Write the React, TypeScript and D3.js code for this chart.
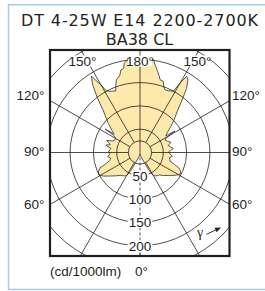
import React from 'react';
import * as d3 from 'd3';

// ---- data ----
const titleLines = ['DT 4-25W E14 2200-2700K', 'BA38 CL'];
const ringValues = [25, 50, 100, 150, 200, 250];
const ringLabels = [50, 100, 150, 200];
const spokeGammas = [30, 60, 90, 120, 150];
const sideLabelGammas = [120, 90, 60];
const sideLabelTexts = ['120°', '90°', '60°'];
const topLabelTexts = ['150°', '180°', '150°'];
const unitLabel = '(cd/1000lm)';
const zeroLabel = '0°';

// left half (C180 side), gamma 0 (down) -> 180 (up), cd/1000lm
const gammaLeft = [0, 5, 10, 15, 20, 24, 27, 30, 33, 37, 41, 46, 52, 57, 60, 62.5, 66, 69, 72, 75, 79, 83, 87, 91, 95, 98, 102, 105, 110, 113, 117, 121, 123, 124, 125.5, 128, 132.5, 136, 139, 142, 145, 147.5, 149.5, 151.5, 155, 158.5, 160, 162, 164, 165.5, 167, 169, 170, 172.5, 176, 180];
const intensityLeft = [4, 5, 7, 10, 15, 25, 45, 57, 60, 62, 65, 72, 82, 93, 98, 101, 97, 92, 76, 68, 64, 70, 64, 68, 65, 63, 75, 66, 76, 63, 60, 62, 68, 90, 68, 76, 92, 106, 121, 148, 177, 194, 172, 150, 145, 142, 152, 164, 168, 172, 182, 184, 195, 201, 203, 203];
// right half (C0 side)
const gammaRight = [0, 5, 10, 15, 20, 24, 27, 30, 33, 37, 41, 46, 52, 57, 60, 62, 65, 68, 71, 74, 77, 80, 83, 87, 91, 94, 97, 101, 104, 108, 112, 116, 119, 121.5, 123, 126, 130, 134, 138, 141, 144, 146.5, 148.5, 150, 151.5, 155, 158.3, 160, 162, 164.6, 166, 167.7, 169.7, 171.8, 176, 180];
const intensityRight = [4, 5, 7, 10, 15, 25, 45, 57, 60, 62, 64, 71, 80, 90, 95, 98, 96, 91, 78, 67, 66, 64, 70, 65, 61, 66, 72, 66, 62, 70, 64, 60, 64, 88, 66, 72, 86, 102, 120, 142, 170, 186, 192, 172, 150, 146, 145, 150, 161, 162, 170, 178, 188, 201, 203, 203];

// ---- layout ----
const W = 265, H = 291;
const cx = 140, cy = 152.5;
const fx0 = 50, fx1 = 229.5, fy0 = 50, fy1 = 256;
const rScale = d3.scaleLinear().domain([0, 250]).range([0, 116.5]);
const deg = Math.PI / 180;
const ink = '#231f20';
const labelFont = 'Liberation Sans, Arial, sans-serif';

export default function App() {
  const pts: [number, number][] = [];
  gammaRight.forEach((g, i) => pts.push([Math.PI - g * deg, rScale(intensityRight[i])]));
  for (let i = gammaLeft.length - 1; i >= 0; i--) {
    pts.push([Math.PI + gammaLeft[i] * deg, rScale(intensityLeft[i])]);
  }
  const curve = d3.lineRadial<[number, number]>()
    .angle(d => d[0]).radius(d => d[1]).curve(d3.curveLinearClosed)(pts) || '';

  const inner = rScale(25);
  const spokes: { x1: number; y1: number; x2: number; y2: number }[] = [];
  spokeGammas.forEach(g => {
    [-1, 1].forEach(s => {
      const dx = s * Math.sin(g * deg), dy = Math.cos(g * deg);
      spokes.push({ x1: cx + dx * inner, y1: cy + dy * inner, x2: cx + dx * 400, y2: cy + dy * 400 });
    });
  });

  const sideY = (g: number) => cy + Math.cos(g * deg) * ((cx - fx0) / Math.sin(g * deg));
  const sideDy = [-5.5, -1.5, -0.5];
  const fs = 13.5;

  const topLabelX = [cx - 57.5, cx, cx + 57.5];

  return (
    <svg width={W} height={H} style={{ position: 'absolute', left: 0, top: 0, background: '#fff' }}>
      <defs>
        <clipPath id="frameClip">
          <rect x={fx0} y={fy0} width={fx1 - fx0} height={fy1 - fy0} />
        </clipPath>
      </defs>
      <path d={`M ${W} 4.75 H 8.5 V 289.5 H ${W}`} fill="none" stroke="#a9cbe5" strokeWidth={1.5} />

      <text x={139.5} y={26} textAnchor="middle" fontFamily="DejaVu Sans, sans-serif" fontSize={16}
        textLength={237} lengthAdjust="spacing" fill={ink}>{titleLines[0]}</text>
      <text x={139.5} y={45} textAnchor="middle" fontFamily="DejaVu Sans, sans-serif" fontSize={16} fill={ink}>{titleLines[1]}</text>

      <g transform={`translate(${cx},${cy})`}>
        <path d={curve} fill="#fde9ab" stroke="#4a4540" strokeWidth={0.9} strokeLinejoin="round" />
      </g>

      <g clipPath="url(#frameClip)" stroke={ink} strokeWidth={0.8} fill="none">
        {ringValues.map(v => <circle key={v} cx={cx} cy={cy} r={rScale(v)} />)}
        {spokes.map((s, i) => <line key={i} {...s} />)}
        <line x1={cx} y1={cy} x2={cx} y2={fy0} />
        <line x1={cx} y1={cy} x2={cx} y2={fy1} strokeDasharray="3,2" />
      </g>

      {ringLabels.map(v => {
        const y = cy + rScale(v);
        const w = String(v).length * 0.556 * fs + 2;
        return (
          <g key={v}>
            <rect x={cx - w / 2} y={y - 5.5} width={w} height={11} fill="#fff" />
            <text x={cx} y={y + 4.8} textAnchor="middle" fontFamily={labelFont} fontSize={fs} fill={ink}>{v}</text>
          </g>
        );
      })}

      {topLabelTexts.map((t, i) => (
        <g key={i}>
          <rect x={topLabelX[i] - 12} y={55.5} width={24} height={11} fill="#fff" />
          <text x={topLabelX[i]} y={66.3} textAnchor="middle" fontFamily={labelFont} fontSize={fs} fill={ink}>{t}</text>
        </g>
      ))}

      {sideLabelGammas.map((g, i) => {
        const y = sideY(g) + sideDy[i] + 4.8;
        return (
          <g key={g}>
            <text x={44.5} y={y} textAnchor="end" fontFamily={labelFont} fontSize={fs} fill={ink}>{sideLabelTexts[i]}</text>
            <text x={232} y={y} textAnchor="start" fontFamily={labelFont} fontSize={fs} fill={ink}>{sideLabelTexts[i]}</text>
          </g>
        );
      })}

      <text x={197} y={237} fontFamily="Liberation Serif, serif" fontSize={14} fill={ink}>γ</text>
      <line x1={206.5} y1={234.3} x2={216} y2={229.9} stroke={ink} strokeWidth={0.9} />
      <polygon points="221,227.5 216.65,232.3 214.55,227.7" fill={ink} />

      <rect x={fx0} y={fy0} width={fx1 - fx0} height={fy1 - fy0} fill="none" stroke={ink} strokeWidth={2.2} />
      <line x1={cx} y1={fy1} x2={cx} y2={fy1 - 3} stroke={ink} strokeWidth={0.8} />

      <text x={50} y={276} fontFamily={labelFont} fontSize={fs} fill={ink}>{unitLabel}</text>
      <text x={135} y={276} fontFamily={labelFont} fontSize={fs} fill={ink}>{zeroLabel}</text>
    </svg>
  );
}
